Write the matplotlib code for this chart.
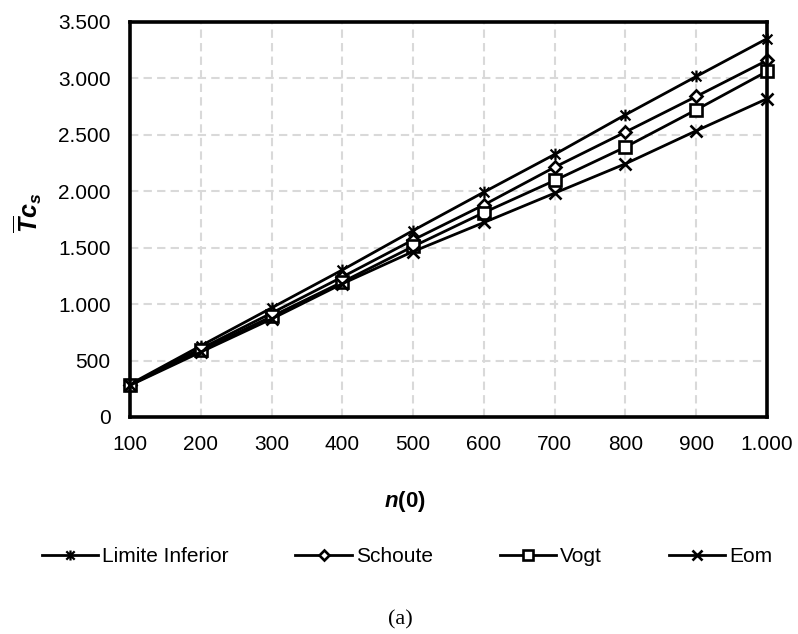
import matplotlib
matplotlib.use('Agg')
import matplotlib.pyplot as plt
from matplotlib.path import Path
from matplotlib.ticker import FuncFormatter

plt.rcParams['font.family'] = ['Liberation Sans', 'DejaVu Sans']
plt.rcParams['mathtext.fontset'] = 'custom'
plt.rcParams['mathtext.rm'] = 'Liberation Sans'
plt.rcParams['mathtext.it'] = 'Liberation Sans:italic'
plt.rcParams['mathtext.bf'] = 'Liberation Sans:bold'
plt.rcParams['mathtext.bfit'] = 'Liberation Sans:bold:italic'

n0 = [100, 200, 300, 400, 500, 600, 700, 800, 900, 1000]
limite_inferior = [290, 630, 966, 1302, 1651, 1991, 2325, 2676, 3015, 3350]
schoute = [285, 605, 920, 1240, 1568, 1878, 2212, 2523, 2838, 3157]
vogt = [283, 590, 890, 1195, 1510, 1810, 2094, 2390, 2720, 3060]
eom = [280, 575, 868, 1180, 1465, 1722, 1982, 2242, 2534, 2818]

y_ticks = [0, 500, 1000, 1500, 2000, 2500, 3000, 3500]

# asterisk-like marker: an x with a vertical stroke through it
star = Path([(-1, -1), (1, 1), (-1, 1), (1, -1), (0, -1.2), (0, 1.2)],
            [Path.MOVETO, Path.LINETO, Path.MOVETO, Path.LINETO,
             Path.MOVETO, Path.LINETO])


def thousands(v, pos):
    return f'{int(v):,}'.replace(',', '.')


fig = plt.figure(figsize=(7.98, 6.34), dpi=100)
ax = fig.add_axes([0.1629, 0.3423, 0.7983, 0.6235])

common = dict(color='black', lw=2.0, mec='black', mfc='white', clip_on=False)
ax.plot(n0, limite_inferior, marker=star, ms=8.5, mew=1.6,
        label='Limite Inferior', **common)
ax.plot(n0, schoute, marker='D', ms=6.5, mew=1.9, label='Schoute', **common)
ax.plot(n0, vogt, marker='s', ms=8, mew=1.9, label='Vogt', **common)
ax.plot(n0, eom, marker='x', ms=8, mew=1.9, label='Eom', **common)

ax.set_xlim(100, 1000)
ax.set_ylim(0, 3500)
ax.set_xticks(n0)
ax.set_yticks(y_ticks)
ax.xaxis.set_major_formatter(FuncFormatter(thousands))
ax.yaxis.set_major_formatter(FuncFormatter(thousands))
ax.tick_params(axis='both', length=0, labelsize=15, colors='black')
ax.tick_params(axis='x', pad=13)
ax.tick_params(axis='y', pad=14)

ax.grid(True, color='#d9d9d9', lw=1.5, linestyle=(0, (4, 2.5)))
ax.set_axisbelow(True)
for s in ax.spines.values():
    s.set_linewidth(2.6)
    s.set_color('black')

fig.text(405 / 798, 1 - 502 / 634, r'$\mathbfit{n}\mathbf{(0)}$', fontsize=16,
         ha='center', va='center')
fig.text(28 / 798, 1 - 213 / 634,
         r'$\overline{\mathbfit{T}}\mathbfit{c}_{\mathbfit{s}}$',
         fontsize=18, rotation=90, ha='center', va='center')

leg = fig.legend(loc='center', bbox_to_anchor=(407 / 798, 1 - 557 / 634), ncol=4,
                 frameon=False, fontsize=15, handlelength=2.7, handletextpad=0.2,
                 columnspacing=3.2, markerscale=0.85)

fig.text(400 / 798, 1 - 620 / 634, '(a)', fontsize=16, ha='center',
         va='center', family='Liberation Serif')

fig.savefig('out.png', dpi=100)
